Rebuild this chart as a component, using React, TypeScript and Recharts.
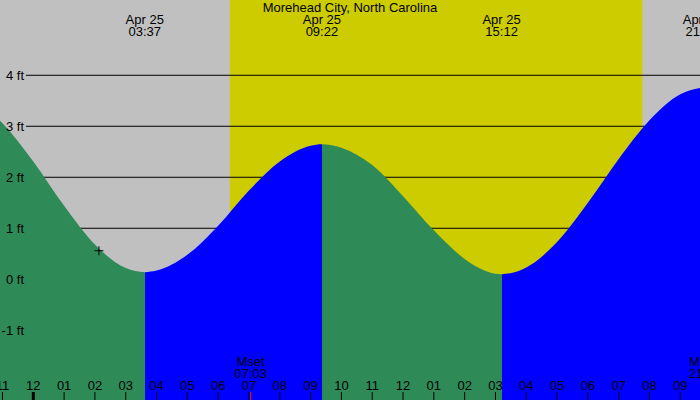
import React from 'react';
import {
  ComposedChart,
  Area,
  XAxis,
  YAxis,
  ReferenceArea,
  ReferenceLine,
  ReferenceDot,
} from 'recharts';

const TITLE = 'Morehead City, North Carolina';

// Tide level (ft) at these hours of Apr 25
const hours = [-1.081, -1, 0, 1, 2, 3, 3.617, 4, 5, 6, 7, 8, 9, 9.367, 10, 11, 12, 13, 14, 15, 15.2, 16, 17, 18, 19, 20, 21, 21.639];
const levels = [3.11, 3.06, 2.31, 1.44, 0.68, 0.22, 0.14, 0.17, 0.48, 1.05, 1.74, 2.31, 2.62, 2.65, 2.58, 2.24, 1.63, 0.96, 0.4, 0.11, 0.1, 0.23, 0.73, 1.5, 2.36, 3.12, 3.63, 3.75];

// Tide extremes
const extremeHours = [3.617, 9.367, 15.2, 21.7];
const extremeDates = ['Apr 25', 'Apr 25', 'Apr 25', 'Apr 25'];
const extremeTimes = ['03:37', '09:22', '15:12', '21:42'];
const extremeKinds = ['low', 'high', 'low', 'high'];

// Sun
const sunriseHour = 6.38;
const sunsetHour = 19.77;

// Moon events
const moonHours = [7.05, 21.8];
const moonNames = ['Mset', 'Mrise'];
const moonTimes = ['07:03', '21:48'];
const moonColors = ['#ff0000', '#ff0000'];

// Current position marker
const nowHour = 2.13;
const nowLevel = 0.56;

// Axes
const xDomain = [-1.081, 21.639];
const yDomain = [-2.367, 5.476];
const hourTicks = [-1, 0, 1, 2, 3, 4, 5, 6, 7, 8, 9, 10, 11, 12, 13, 14, 15, 16, 17, 18, 19, 20, 21];
const levelTicks = [-1, 0, 1, 2, 3, 4];
const gridLevels = [1, 2, 3, 4];
const gridStartHour = -0.24;

const W = 700;
const H = 400;
const FONT = '"Liberation Sans", Arial, sans-serif';
const NIGHT = '#c0c0c0';
const DAY = '#cccc00';
const FALLING = '#2e8b57';
const RISING = '#0000ff';

const data = hours.map((h, i) => ({ h, level: levels[i] }));

const fmtHour = (v: number) => {
  const hh = ((v % 12) + 12) % 12;
  return String(hh === 0 ? 12 : hh).padStart(2, '0');
};

// gradient stops: falling (before a low) green, rising (before a high) blue
const span = xDomain[1] - xDomain[0];
const segColor = (kind: string) => (kind === 'low' ? FALLING : RISING);
const stops: { off: number; color: string }[] = [];
stops.push({ off: 0, color: segColor(extremeKinds[0]) });
extremeHours.forEach((eh, i) => {
  if (eh <= xDomain[0] || eh >= xDomain[1]) return;
  const f = (eh - xDomain[0]) / span;
  stops.push({ off: f, color: segColor(extremeKinds[i]) });
  const next = extremeKinds[i + 1];
  stops.push({ off: f, color: next ? segColor(next) : segColor(extremeKinds[i] === 'low' ? 'high' : 'low') });
});
stops.push({ off: 1, color: stops[stops.length - 1].color });

const XTick = (props: any) => {
  const { x, payload } = props;
  const v = payload.value;
  return (
    <g>
      <line x1={x} x2={x} y1={H - 8} y2={H} stroke="#000" strokeWidth={v === 0 ? 3 : 1} />
      <text x={x} y={H - 10} textAnchor="middle" fontSize={13} fontFamily={FONT} fill="#000">
        {fmtHour(v)}
      </text>
    </g>
  );
};

const YTick = (props: any) => {
  const { y, payload } = props;
  return (
    <text x={24} y={y + 4.5} textAnchor="end" fontSize={13} fontFamily={FONT} fill="#000">
      {`${payload.value} ft`}
    </text>
  );
};

const makeExtremeLabel = (i: number) => (props: any) => {
  const vb = props.viewBox || {};
  const x = vb.x;
  return (
    <g>
      <text x={x} y={24} textAnchor="middle" fontSize={13} fontFamily={FONT} fill="#000">
        {extremeDates[i]}
      </text>
      <text x={x} y={36} textAnchor="middle" fontSize={13} fontFamily={FONT} fill="#000">
        {extremeTimes[i]}
      </text>
    </g>
  );
};

const makeMoonLabel = (i: number) => (props: any) => {
  const vb = props.viewBox || {};
  const x = vb.x;
  return (
    <g>
      <text x={x} y={366} textAnchor="middle" fontSize={13} fontFamily={FONT} fill="#000">
        {moonNames[i]}
      </text>
      <text x={x} y={378} textAnchor="middle" fontSize={13} fontFamily={FONT} fill="#000">
        {moonTimes[i]}
      </text>
      <line x1={x} x2={x} y1={H - 8} y2={H} stroke={moonColors[i]} strokeWidth={1} />
    </g>
  );
};

const Cross = (props: any) => {
  const { cx, cy } = props;
  return (
    <path
      d={`M${cx - 4.5},${cy}H${cx + 4.5}M${cx},${cy - 4.5}V${cy + 4.5}`}
      stroke="#000"
      strokeWidth={1}
      fill="none"
    />
  );
};

export default function App() {
  return (
    <div style={{ position: 'fixed', left: 0, top: 0, width: W, height: H, background: NIGHT, overflow: 'hidden' }}>
      <ComposedChart width={W} height={H} data={data} margin={{ top: 0, right: 0, bottom: 0, left: 0 }}>
        <defs>
          <linearGradient id="tideFill" x1="0" y1="0" x2="1" y2="0">
            {stops.map((s, i) => (
              <stop key={i} offset={s.off} stopColor={s.color} stopOpacity={1} />
            ))}
          </linearGradient>
        </defs>
        <XAxis
          dataKey="h"
          type="number"
          domain={xDomain}
          allowDataOverflow
          ticks={hourTicks}
          interval={0}
          orientation="bottom"
          mirror
          axisLine={false}
          tickLine={false}
          tick={<XTick />}
        />
        <YAxis
          type="number"
          domain={yDomain}
          allowDataOverflow
          ticks={levelTicks}
          interval={0}
          mirror
          axisLine={false}
          tickLine={false}
          tick={<YTick />}
        />
        <ReferenceArea
          x1={sunriseHour}
          x2={sunsetHour}
          y1={yDomain[0]}
          y2={yDomain[1]}
          fill={DAY}
          fillOpacity={1}
          stroke="none"
          zIndex={-80}
        />
        {gridLevels.map((g) => (
          <ReferenceLine
            key={`g${g}`}
            segment={[{ x: gridStartHour, y: g }, { x: xDomain[1], y: g }]}
            stroke="#000"
            strokeWidth={1}
            zIndex={-50}
          />
        ))}
        <Area
          dataKey="level"
          type="monotone"
          baseValue="dataMin"
          stroke="none"
          fill="url(#tideFill)"
          fillOpacity={1}
          isAnimationActive={false}
          dot={false}
          activeDot={false}
        />
        {extremeHours.map((eh, i) => (
          <ReferenceLine key={`e${i}`} x={eh} stroke="none" ifOverflow="visible" label={makeExtremeLabel(i)} />
        ))}
        {moonHours.map((mh, i) => (
          <ReferenceLine key={`m${i}`} x={mh} stroke="none" ifOverflow="visible" label={makeMoonLabel(i)} />
        ))}
        <ReferenceDot x={nowHour} y={nowLevel} r={4} shape={<Cross />} ifOverflow="visible" />
      </ComposedChart>
      <div
        style={{
          position: 'absolute',
          left: 0,
          top: 0,
          width: W,
          textAlign: 'center',
          fontFamily: FONT,
          fontSize: 13,
          lineHeight: '15px',
          color: '#000',
        }}
      >
        {TITLE}
      </div>
    </div>
  );
}
